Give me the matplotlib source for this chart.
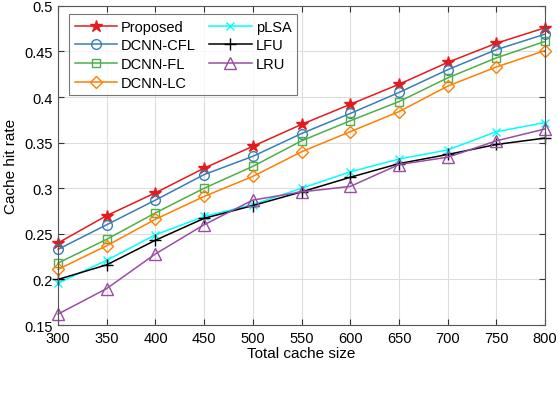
import matplotlib
matplotlib.use("Agg")
import matplotlib.pyplot as plt

# ==========================================
# DADOS DO GRÁFICO
# ==========================================

cache_size = [300, 350, 400, 450, 500, 550, 600, 650, 700, 750, 800]

proposed = [0.240, 0.270, 0.295, 0.322, 0.346, 0.370, 0.392, 0.414, 0.438, 0.459, 0.476]
dcnn_cfl = [0.233, 0.260, 0.287, 0.315, 0.335, 0.360, 0.382, 0.405, 0.430, 0.452, 0.469]
dcnn_fl = [0.218, 0.244, 0.273, 0.300, 0.324, 0.352, 0.374, 0.395, 0.421, 0.443, 0.461]
dcnn_lc = [0.211, 0.237, 0.266, 0.291, 0.313, 0.340, 0.362, 0.384, 0.412, 0.433, 0.451]
plsa = [0.196, 0.221, 0.249, 0.269, 0.282, 0.300, 0.318, 0.332, 0.342, 0.362, 0.372]
lfu = [0.200, 0.216, 0.243, 0.267, 0.281, 0.296, 0.312, 0.327, 0.337, 0.348, 0.355]
lru = [0.162, 0.190, 0.228, 0.260, 0.287, 0.296, 0.302, 0.326, 0.334, 0.352, 0.365]

y_ticks = [0.15, 0.2, 0.25, 0.3, 0.35, 0.4, 0.45, 0.5]
y_tick_labels = ["0.15", "0.2", "0.25", "0.3", "0.35", "0.4", "0.45", "0.5"]

plt.rcParams['font.family'] = ['Liberation Sans', 'DejaVu Sans']

fig = plt.figure(figsize=(5.58, 4.02), dpi=100)
ax = fig.add_axes([0.104, 0.189, 0.873, 0.794])

# (rótulo, valores, cor, marcador, tamanho)
series = [
    ("Proposed", proposed, '#e41a1c', '*', 9),
    ("DCNN-CFL", dcnn_cfl, '#377eb8', 'o', 7),
    ("DCNN-FL", dcnn_fl, '#4daf4a', 's', 6),
    ("DCNN-LC", dcnn_lc, '#ff7f00', 'D', 6),
    ("pLSA", plsa, '#00ffff', 'x', 6),
    ("LFU", lfu, '#000000', '+', 8),
    ("LRU", lru, '#984ea3', '^', 8),
]

for label, vals, cor, mk, ms in series:
    ax.plot(cache_size, vals, color=cor, marker=mk, markersize=ms,
            markerfacecolor='none' if mk not in ('*', 'x', '+') else cor,
            markeredgewidth=1.0, linewidth=1.1, label=label, clip_on=False)

ax.set_xlim(300, 800)
ax.set_ylim(0.15, 0.5)
ax.set_xticks(cache_size)
ax.set_yticks(y_ticks)
ax.set_yticklabels(y_tick_labels)
ax.tick_params(direction='in', top=True, right=True, labelsize=10.5, length=4,
               color='#333333', pad=4)
ax.grid(True, color='#dddddd', linewidth=0.8)
ax.set_axisbelow(True)
for s in ax.spines.values():
    s.set_color('#555555')
    s.set_linewidth(0.8)

ax.set_xlabel("Total cache size", fontsize=11, labelpad=1)
ax.set_ylabel("Cache hit rate", fontsize=11, labelpad=4)

leg = ax.legend(ncol=2, loc='upper left', bbox_to_anchor=(0.022, 0.975),
                fontsize=10.5, frameon=True, fancybox=False, edgecolor='#555555',
                handlelength=2.9, columnspacing=0.9, handletextpad=0.3,
                labelspacing=0.32, borderpad=0.4, borderaxespad=0.0)
leg.get_frame().set_linewidth(0.8)

fig.savefig("out.png", dpi=100)
